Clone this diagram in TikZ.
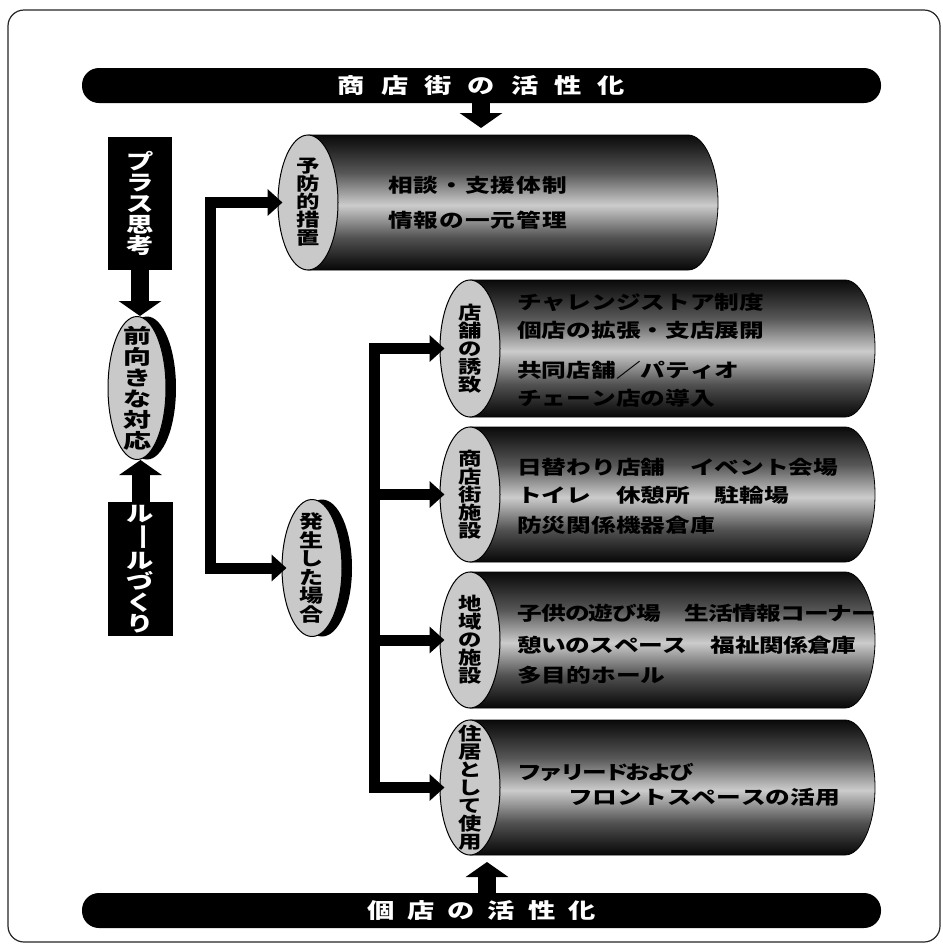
\documentclass[tikz,border=0pt]{standalone}
\usepackage{fontspec}
\usepackage{graphicx}
\newfontfamily\jp{Noto Sans CJK JP}
\newfontfamily\jpw[FakeStretch=1.3]{Noto Sans CJK JP}
\newfontfamily\jpww[FakeStretch=1.4]{Noto Sans CJK JP}
\usetikzlibrary{shapes.geometric,arrows.meta}
\pgfdeclarelayer{bg}
\pgfsetlayers{bg,main}
\pgfdeclareverticalshading{cylshade}{100bp}{color(0bp)=(black!97); color(25bp)=(black!97); color(29bp)=(black!88); color(37bp)=(black!68); color(49bp)=(black!20); color(61bp)=(black!66); color(71bp)=(black!88); color(75bp)=(black!96); color(100bp)=(black!96)}
\makeatletter
\newcommand\spacedtext[2]{\let\st@sep\relax\@tfor\st@c:=#2\do{\st@sep\st@c\def\st@sep{\hskip#1\relax}}}
\makeatother
\newcommand\vbar{\rotatebox[origin=c]{-90}{ー}}
\tikzset{
  capell/.style={ellipse, draw=black, line width=1pt, fill=gray!42, inner sep=0pt},
  vlabel/.style={font=\jpw\bfseries\fontsize{18}{18}\selectfont, align=center, inner sep=0pt},
  txtline/.style={font=\jpw\bfseries\fontsize{19}{20}\selectfont, anchor=west, inner sep=0pt},
  conn/.style={line width=11pt, line join=miter},
  conarr/.style={conn, -{Triangle[length=15pt,width=26pt]}, shorten >=-5pt},
  bigarr/.style={line width=18pt, -{Triangle[length=15pt,width=42pt]}},
  banner/.style={fill=black, rounded corners=17pt, minimum width=799pt, minimum height=35pt, text=white, inner sep=0pt, font=\jpw\bfseries\fontsize{21}{22}\selectfont},
  blackbox/.style={fill=black, text=white, align=center, inner sep=0pt, font=\jpw\bfseries\fontsize{21}{21.2}\selectfont},
  shadowell/.style={ellipse, fill=black, inner sep=0pt},
}
\newcommand\cyl[6]{%
  \path[draw=black, line width=0.8pt, shading=cylshade] ({#2},{#3-#4}) -- ({#5-30},{#3-#4}) arc[start angle=90, end angle=-90, x radius=30pt, y radius=#4pt] -- ({#2},{#3+#4}) -- cycle;
  \node[capell, minimum width=60pt, minimum height={2*#4pt}] (#1) at (#2,#3) {};
  \node[vlabel] (#1-t) at (#1.center) {#6};
}
\begin{document}
\begin{tikzpicture}[x=1pt,y=-1pt]
\useasboundingbox (0,0) rectangle (943,946);
\fill[white] (0,0) rectangle (943,946);
% frame
\draw[rounded corners=16pt, line width=1.2pt, black!85] (8,10) rectangle (940,942);

% banners
\node[banner] (topban) at (481.5,85.5) {\spacedtext{16pt}{商店街の活性化}};
\node[banner] (botban) at (481.5,910.5) {\spacedtext{13pt}{個店の活性化}};

% cylinders
\cyl{yobo}{308}{202.5}{67.5}{718}{予\\防\\的\\措\\置}
\cyl{tenpo}{470}{348.5}{68.5}{875}{店\\舗\\の\\誘\\致}
\cyl{shoten}{470}{494.5}{67.5}{875}{商\\店\\街\\施\\設}
\cyl{chiiki}{470}{640}{68}{875}{地\\域\\の\\施\\設}
\cyl{jukyo}{470}{787.5}{67.5}{875}{住\\居\\と\\し\\て\\使\\用}

% cylinder texts
\node[txtline] (y1) at (388,185) {\spacedtext{1pt}{相談・支援体制}};
\node[txtline] (y2) at (388,220) {\spacedtext{1pt}{情報の一元管理}};
\node[txtline] (t1) at (517,302) {\spacedtext{0pt}{チャレンジストア制度}};
\node[txtline] (t2) at (517,330) {\spacedtext{0pt}{個店の拡張・支店展開}};
\node[txtline] (t3) at (517,370) {\spacedtext{0pt}{共同店舗／パティオ}};
\node[txtline] (t4) at (517,398) {\spacedtext{0pt}{チェーン店の導入}};
\node[txtline] (s1) at (517,467) {\spacedtext{0pt}{日替わり店舗　イベント会場}};
\node[txtline] (s2) at (517,495) {\spacedtext{0pt}{トイレ　休憩所　駐輪場}};
\node[txtline] (s3) at (517,525) {\spacedtext{0pt}{防災関係機器倉庫}};
\node[txtline] (c1) at (517,613) {\spacedtext{-0.8pt}{子供の遊び場　生活情報コーナー}};
\node[txtline] (c2) at (517,645) {\spacedtext{-0.5pt}{憩いのスペース　福祉関係倉庫}};
\node[txtline] (c3) at (517,675) {\spacedtext{0pt}{多目的ホール}};
\node[txtline] (j1) at (517,772) {\spacedtext{-3pt}{ファリードおよび}};
\node[txtline] (j2) at (568,797) {\spacedtext{0pt}{フロントスペースの活用}};

% left boxes
\node[blackbox, minimum width=64pt, minimum height=133pt] (plus) at (140,203.5) {プ\\ラ\\ス\\思\\考};
\node[blackbox, minimum width=65pt, minimum height=134pt] (rule) at (140.5,569) {ル\\\vbar\\ル\\づ\\く\\り};

% ellipses with shadow
\node[shadowell, minimum width=58pt, minimum height=143pt] (maesh) at (147,388) {};
\node[capell, minimum width=58pt, minimum height=143pt] (mae) at (137,388) {};
\node[vlabel, font=\jpww\bfseries\fontsize{20}{21}\selectfont] (mae-t) at (mae.center) {前\\向\\き\\な\\対\\応};
\node[shadowell, minimum width=60pt, minimum height=137pt] (hasseish) at (322,568) {};
\node[capell, minimum width=60pt, minimum height=137pt] (hassei) at (312,568) {};
\node[vlabel, font=\jpw\bfseries\fontsize{18.5}{18.5}\selectfont] (hassei-t) at (hassei.center) {発\\生\\し\\た\\場\\合};

% junctions
\coordinate (jL) at (210,388);
\coordinate (jR) at (374,568);
\coordinate (ta) at (481,128);
\coordinate (ba) at (487,862);

\begin{pgfonlayer}{bg}
\draw[conn] (mae.east) -- (jL);
\draw[conn] (hassei.east) -- (jR);
\end{pgfonlayer}

\draw[conarr] (jL) |- (yobo.west);
\draw[conarr] (jL) |- (hassei.west);
\draw[conarr] (jR) |- (tenpo.west);
\draw[conarr] (jR) |- (shoten.west);
\draw[conarr] (jR) |- (chiiki.west);
\draw[conarr] (jR) |- (jukyo.west);

\draw[bigarr] (plus.south) -- (plus.south |- mae.north);
\draw[bigarr] (rule.north) -- (rule.north |- mae.south);
\draw[bigarr] (topban.south -| ta) -- (ta);
\draw[bigarr] (botban.north -| ba) -- (ba);
\end{tikzpicture}
\end{document}
